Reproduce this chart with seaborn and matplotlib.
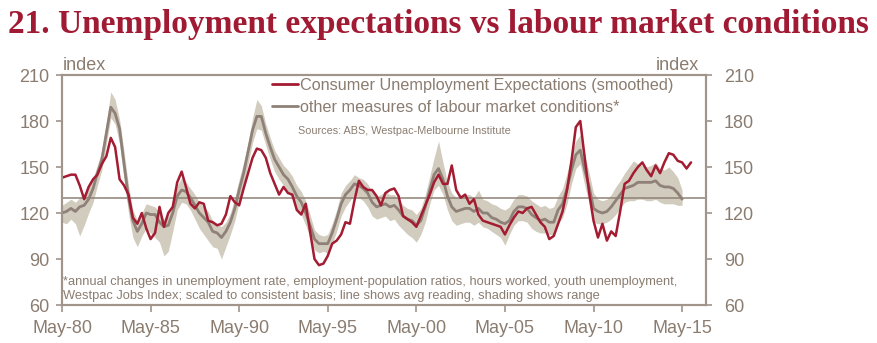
import matplotlib
matplotlib.use("Agg")
import matplotlib.pyplot as plt
import pandas as pd
import seaborn as sns
from matplotlib.lines import Line2D

# ---------------- data (quarterly readings from May-1980) ----------------
consumer_expect = [
    143, 144, 145, 145, 138, 129, 137, 142, 145, 152, 157, 169,
    163, 142, 138, 132, 117, 113, 120, 110, 103, 107, 124, 111,
    120, 124, 140, 147, 137, 126, 123, 127, 126, 115, 114, 112,
    113, 119, 131, 127, 125, 136, 146, 156, 162, 161, 156, 146,
    139, 132, 137, 133, 132, 122, 119, 126, 108, 90, 86, 87,
    92, 100, 102, 106, 114, 113, 128, 141, 137, 135, 135, 131,
    125, 133, 135, 136, 131, 118, 116, 114, 111, 118, 125, 132,
    140, 145, 139, 139, 151, 135, 130, 132, 126, 129, 119, 115,
    114, 113, 112, 111, 106, 112, 117, 121, 120, 123, 124, 119,
    114, 111, 103, 105, 113, 121, 135, 154, 176, 180, 156, 133,
    115, 104, 113, 102, 108, 105, 121, 139, 141, 146, 150, 153,
    148, 144, 151, 146, 153, 159, 158, 154, 153, 149, 153,
]
labour_avg = [
    120, 121, 123, 121, 124, 125, 129, 136, 146, 155, 172, 189,
    185, 175, 152, 130, 115, 108, 113, 120, 119, 119, 114, 111,
    112, 120, 131, 135, 134, 130, 125, 120, 117, 114, 108, 107,
    104, 108, 114, 123, 135, 146, 160, 174, 183, 183, 172, 163,
    155, 150, 145, 142, 137, 131, 127, 120, 112, 103, 100, 100,
    100, 107, 116, 126, 132, 135, 139, 138, 136, 133, 127, 124,
    125, 126, 124, 125, 122, 118, 116, 115, 112, 115, 124, 135,
    145, 149, 142, 131, 124, 121, 122, 123, 123, 121, 123, 120,
    120, 117, 116, 114, 113, 115, 121, 124, 124, 123, 119, 117,
    115, 116, 114, 114, 122, 126, 136, 148, 158, 161, 148, 137,
    123, 121, 120, 121, 124, 128, 132, 136, 137, 138, 140, 140,
    140, 140, 141, 138, 137, 137, 136, 133, 129,
]
labour_low = [
    114, 113, 116, 113, 105, 112, 120, 127, 138, 148, 165, 182,
    178, 165, 142, 120, 104, 98, 105, 110, 107, 104, 101, 92,
    95, 108, 122, 127, 126, 122, 116, 110, 106, 102, 98, 97,
    90, 98, 106, 115, 127, 138, 152, 166, 175, 174, 164, 155,
    147, 142, 138, 134, 129, 123, 119, 112, 104, 96, 94, 95,
    94, 100, 108, 118, 124, 128, 132, 130, 128, 124, 118, 116,
    117, 118, 115, 116, 112, 109, 106, 104, 101, 106, 114, 126,
    135, 138, 132, 122, 115, 112, 113, 114, 114, 112, 114, 111,
    110, 108, 106, 104, 99, 106, 112, 115, 115, 114, 110, 108,
    107, 107, 106, 106, 113, 117, 126, 139, 149, 152, 138, 126,
    114, 113, 113, 114, 116, 119, 123, 127, 128, 128, 129, 129,
    128, 128, 129, 127, 126, 126, 126, 125, 125,
]
labour_high = [
    125, 127, 129, 127, 130, 133, 137, 143, 151, 161, 179, 199,
    194, 181, 160, 138, 122, 115, 120, 126, 125, 124, 120, 116,
    118, 126, 138, 143, 140, 136, 132, 127, 124, 121, 115, 113,
    111, 114, 120, 130, 142, 153, 166, 182, 194, 190, 178, 169,
    161, 156, 151, 148, 144, 138, 134, 128, 119, 109, 106, 105,
    106, 113, 122, 133, 138, 141, 145, 143, 142, 139, 134, 131,
    132, 134, 132, 132, 129, 125, 123, 122, 119, 123, 132, 144,
    156, 167, 153, 140, 133, 130, 131, 132, 132, 130, 135, 129,
    128, 126, 125, 123, 122, 124, 129, 132, 132, 131, 128, 126,
    124, 125, 123, 124, 131, 136, 146, 158, 167, 171, 158, 146,
    133, 129, 128, 129, 132, 137, 141, 146, 150, 154, 152, 151,
    150, 151, 153, 149, 148, 150, 147, 143, 135,
]
tick_years = [1980, 1985, 1990, 1995, 2000, 2005, 2010, 2015]
tick_labels = ["May-80", "May-85", "May-90", "May-95", "May-00", "May-05", "May-10", "May-15"]
y_ticks = [60, 90, 120, 150, 180, 210]
ref_level = 130
series_names = ["Consumer Unemployment Expectations (smoothed)",
                "other measures of labour market conditions*"]

# ---------------- style ----------------
sns.set_theme(style="white")
plt.rcParams["font.family"] = ["Liberation Sans", "DejaVu Sans"]

TXT = "#8b7c70"
RED = "#a31c32"
GREY = "#8f8177"
BAND = "#d2ccbf"
SPINE = "#a0948b"
TITLE = "#a01a33"

W, H = 878, 343
fig = plt.figure(figsize=(W / 100, H / 100), dpi=100)
fig.patch.set_facecolor("white")
L, R, T, B = 62, 706, 75, 305
ax = fig.add_axes([L / W, 1 - B / H, (R - L) / W, (B - T) / H])

red_dates = pd.date_range("1980-05-01", periods=len(consumer_expect), freq="3MS")
avg_dates = pd.date_range("1980-05-01", periods=len(labour_avg), freq="3MS")
df_red = pd.DataFrame({"date": red_dates, "value": consumer_expect})
df_avg = pd.DataFrame({"date": avg_dates, "value": labour_avg,
                       "lo": labour_low, "hi": labour_high})

ax.fill_between(df_avg["date"], df_avg["lo"], df_avg["hi"], color=BAND, lw=0, zorder=1)
ax.axhline(ref_level, color=GREY, lw=1.1, zorder=2)
sns.lineplot(data=df_avg, x="date", y="value", ax=ax, color=GREY, lw=2.0, zorder=3)
sns.lineplot(data=df_red, x="date", y="value", ax=ax, color=RED, lw=1.8, zorder=4)

ax.set_xlim(pd.Timestamp("1980-05-01"), pd.Timestamp("2016-09-05"))
ax.set_ylim(60, 210)
ax.set_xlabel("")
ax.set_ylabel("")
ax.set_xticks([pd.Timestamp(f"{y}-05-01") for y in tick_years])
ax.set_xticklabels(tick_labels)
ax.set_yticks(y_ticks)
ax.set_yticklabels([str(v) for v in y_ticks])
for s in ax.spines.values():
    s.set_visible(True)
    s.set_color(SPINE)
    s.set_linewidth(1.5)
ax.tick_params(axis="x", direction="out", length=5, width=1.2, color=SPINE,
               labelsize=13, labelcolor=TXT, pad=6, bottom=True)
ax.tick_params(axis="y", direction="out", length=4, width=1.2, color=SPINE,
               labelsize=13, labelcolor=TXT, pad=5, left=True)

ax2 = ax.twinx()
ax2.set_ylim(60, 210)
ax2.set_yticks(y_ticks)
ax2.set_yticklabels([str(v) for v in y_ticks])
ax2.tick_params(axis="y", direction="out", length=4, width=1.2, color=SPINE,
                labelsize=13, labelcolor=TXT, pad=9, right=True)
for s in ax2.spines.values():
    s.set_color(SPINE)
    s.set_linewidth(1.5)
ax2.grid(False)
ax.grid(False)

# legend
handles = [Line2D([], [], color=RED, lw=2), Line2D([], [], color=GREY, lw=2)]
leg = ax.legend(handles, series_names, loc="upper left",
                bbox_to_anchor=(272 / W, 1 - 78 / H), bbox_transform=fig.transFigure,
                frameon=False, fontsize=11.7, handlelength=1.6, handletextpad=0.1,
                labelspacing=0.42, borderpad=0, borderaxespad=0, labelcolor=TXT)

fig.text(298 / W, 1 - 134 / H, "Sources: ABS, Westpac-Melbourne Institute",
         fontsize=7.8, color=TXT, ha="left", va="baseline")

fig.text(63 / W, 1 - 285 / H,
         "*annual changes in unemployment rate, employment-population ratios, hours worked, youth unemployment,",
         fontsize=9.3, color=TXT, ha="left", va="baseline")
fig.text(63 / W, 1 - 299.5 / H,
         "Westpac Jobs Index; scaled to consistent basis; line shows avg reading, shading shows range",
         fontsize=9.3, color=TXT, ha="left", va="baseline")

fig.text(63 / W, 1 - 70 / H, "index", fontsize=13, color=TXT, ha="left", va="baseline")
fig.text(699 / W, 1 - 70 / H, "index", fontsize=13, color=TXT, ha="right", va="baseline")

fig.text(8 / W, 1 - 33 / H, "21. Unemployment expectations vs labour market conditions",
         fontsize=24, fontweight="bold", color=TITLE, ha="left", va="baseline",
         family=["Liberation Serif", "DejaVu Serif"])

fig.savefig("out.png", dpi=100, facecolor="white")
